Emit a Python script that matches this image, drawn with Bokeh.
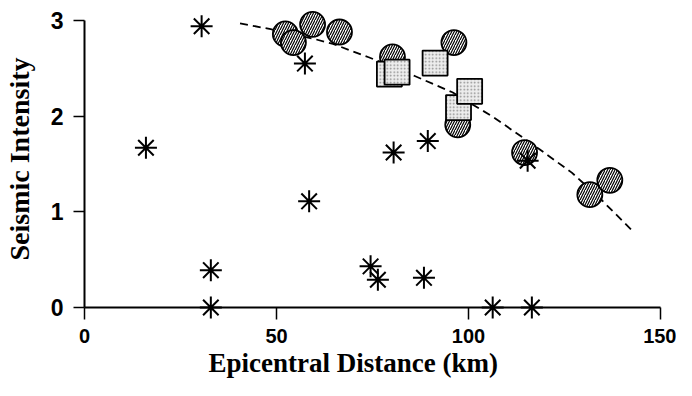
from bokeh.plotting import figure
from bokeh.models import Range1d, FixedTicker, Title
from bokeh.embed import file_html
from bokeh.resources import INLINE

# ---- data ----
star_x = [30.5, 16.0, 57.4, 58.5, 32.9, 32.9, 80.5, 89.4, 115.4, 74.5, 76.4, 88.4, 106.3, 116.5]
star_y = [2.94, 1.67, 2.55, 1.11, 0.39, 0.0, 1.62, 1.74, 1.535, 0.43, 0.29, 0.31, 0.0, 0.0]

circle_x = [52.3, 54.4, 59.4, 66.4, 80.2, 96.2, 97.2, 114.6, 131.6, 136.8]
circle_y = [2.86, 2.77, 2.96, 2.88, 2.62, 2.77, 1.91, 1.62, 1.18, 1.33]

square_x = [79.4, 81.4, 91.3, 97.4, 100.3]
square_y = [2.44, 2.46, 2.555, 2.09, 2.26]

curve_x = [40.5, 48.5, 59.6, 64.7, 74.0, 86.0, 95.8, 106.5, 118.4, 126.9, 134.0, 142.5]
curve_y = [2.97, 2.91, 2.81, 2.756, 2.616, 2.42, 2.25, 1.99, 1.657, 1.41, 1.15, 0.81]

x_ticks = [0, 50, 100, 150]
y_ticks = [0, 1, 2, 3]

x_title = "Epicentral Distance  (km)"
y_title = "Seismic Intensity"

# ---- figure ----
p = figure(width=676, height=380, output_backend="svg", toolbar_location=None,
           x_range=Range1d(0, 150), y_range=Range1d(0, 3.105),
           min_border_left=84, min_border_right=16, min_border_top=10, min_border_bottom=73)
p.grid.visible = False
p.outline_line_color = None
p.background_fill_color = "white"
p.border_fill_color = "white"

# curve
p.line(curve_x, curve_y, line_color="black", line_width=1.8, line_dash="8 5")

# hatched circles
p.scatter(circle_x, circle_y, marker="circle", size=25, fill_color="white",
          line_color="black", line_width=1.8, hatch_pattern="/", hatch_scale=5,
          hatch_weight=1.2, hatch_color="black")

# stippled squares
p.scatter(square_x, square_y, marker="square", size=25, fill_color="#ededed",
          line_color="black", line_width=1.8, hatch_pattern=".", hatch_scale=3.5,
          hatch_weight=0.8, hatch_color="#8a8a8a")

# asterisks
p.scatter(star_x, star_y, marker="asterisk", size=22, line_color="black",
          line_width=2, level="overlay")

# axes
for ax in (p.xaxis[0], p.yaxis[0]):
    ax.axis_line_color = "black"
    ax.axis_line_width = 2
    ax.major_tick_line_color = "black"
    ax.major_tick_line_width = 1.5
    ax.major_tick_in = 0
    ax.minor_tick_line_color = None
    ax.major_label_text_font = "Liberation Sans"
    ax.major_label_text_font_style = "bold"
    ax.major_label_text_color = "black"

p.xaxis.ticker = FixedTicker(ticks=x_ticks)
p.yaxis.ticker = FixedTicker(ticks=y_ticks)
p.xaxis.bounds = (0, 150)
p.yaxis.bounds = (0, 3)
p.xaxis.major_tick_out = 12
p.yaxis.major_tick_out = 11
p.xaxis.major_label_text_font_size = "20px"
p.yaxis.major_label_text_font_size = "23px"
p.xaxis.major_label_standoff = 9
p.yaxis.major_label_standoff = 10

p.yaxis.axis_label = y_title
p.yaxis.axis_label_text_font = "Liberation Serif"
p.yaxis.axis_label_text_font_style = "bold"
p.yaxis.axis_label_text_font_size = "28px"
p.yaxis.axis_label_text_color = "black"
p.yaxis.axis_label_standoff = 13

t = Title(text=x_title, align="left", offset=124, text_font="Liberation Serif",
          text_font_style="bold", text_font_size="27px", text_color="black", standoff=0)
p.add_layout(t, "below")

open("out.html", "w").write(file_html(p, INLINE))
